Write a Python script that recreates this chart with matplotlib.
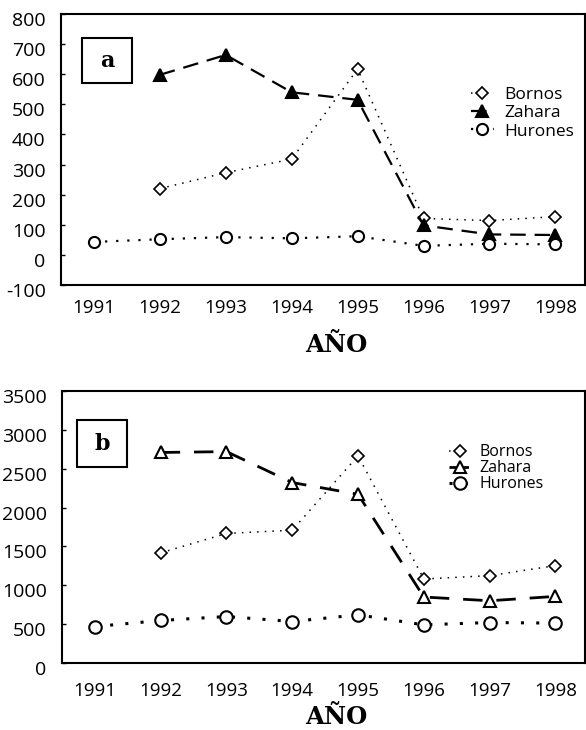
import numpy as np
import matplotlib
matplotlib.use('Agg')
import matplotlib.pyplot as plt
from matplotlib.patches import Rectangle
from matplotlib.transforms import ScaledTranslation

plt.rcParams['font.family'] = ['Open Sans', 'DejaVu Sans']

# 年份
years = [1991, 1992, 1993, 1994, 1995, 1996, 1997, 1998]

# 图 a
bornos_a = [np.nan, 220, 273, 318, 617, 121, 114, 127]
zahara_a = [np.nan, 598, 664, 540, 515, 98, 68, 66]
hurones_a = [43, 52, 59, 55, 62, 30, 37, 35]
yticks_a = list(range(-100, 900, 100))

# 图 b
bornos_b = [np.nan, 1417, 1667, 1709, 2666, 1081, 1124, 1253]
zahara_b = [np.nan, 2709, 2720, 2322, 2171, 849, 801, 857]
hurones_b = [469, 547, 598, 534, 620, 491, 521, 513]
yticks_b = list(range(0, 4000, 500))

series_names = ['Bornos', 'Zahara', 'Hurones']

W, H = 586, 730
fig = plt.figure(figsize=(W / 100, H / 100), dpi=100)


def px_axes(left, top, right, bottom):
    return fig.add_axes([left / W, 1 - bottom / H, (right - left) / W, (bottom - top) / H])


def draw_panel(ax, bornos, zahara, hurones, yticks, tri_face, big, xpad):
    lw_b = 1.1
    lw_z = 1.6 if not big else 2.0
    lw_h = 1.6 if not big else 2.2
    l1, = ax.plot(years, bornos, linestyle=(0, (1, 4)), color='black', lw=lw_b,
                  marker='D', ms=6, mfc='white', mec='black', mew=1.2)
    l2, = ax.plot(years, zahara, linestyle=(0, (7, 4)) if not big else (0, (7, 5)), color='black', lw=lw_z,
                  marker='^', ms=8.5, mfc=tri_face, mec='black', mew=1.5)
    l3, = ax.plot(years, hurones, linestyle=(0, (1, 4)), color='black', lw=lw_h,
                  marker='o', ms=8 if not big else 9, mfc='white', mec='black', mew=1.5)
    ax.set_xlim(1990.5, 1998.45)
    ax.set_ylim(yticks[0], yticks[-1])
    ax.set_yticks(yticks)
    ax.set_xticks(years)
    ax.set_xticklabels([str(y) for y in years], fontsize=13.5)
    ax.set_yticklabels([str(y) for y in yticks], fontsize=14)
    ax.tick_params(axis='y', direction='in', length=3, pad=11, width=1)
    ax.tick_params(axis='x', direction='in', length=0, pad=xpad)
    # y 轴标签略向下偏
    for lab in ax.get_yticklabels():
        lab.set_transform(lab.get_transform() + ScaledTranslation(0, -5 / 100, fig.dpi_scale_trans))
    for sp in ax.spines.values():
        sp.set_linewidth(1.5)
    return [l1, l2, l3]


# 上图 a
ax1 = px_axes(61, 14, 585, 285)
h1 = draw_panel(ax1, bornos_a, zahara_a, hurones_a, yticks_a, 'black', False, 10)
leg1 = ax1.legend(h1, series_names, loc='upper left', bbox_to_anchor=(464 / W, 1 - 80 / H),
                  bbox_transform=fig.transFigure, frameon=False, fontsize=12.5,
                  handlelength=1.3, handletextpad=0.6, labelspacing=0.12, borderaxespad=0)
fig.add_artist(Rectangle((82 / W, 1 - 83 / H), 50 / W, 45 / H, transform=fig.transFigure,
                         fill=False, lw=1.5, ec='black'))
fig.text(107 / W, 1 - 61 / H, 'a', ha='center', va='center', fontsize=16,
         fontweight='bold', family='DejaVu Serif')
fig.text(336 / W, 1 - 345 / H, 'AÑO', ha='center', va='center', fontsize=17.5,
         fontweight='bold', family='DejaVu Serif')

# 下图 b
ax2 = px_axes(62, 391, 585, 663)
h2 = draw_panel(ax2, bornos_b, zahara_b, hurones_b, yticks_b, 'white', True, 14)
leg2 = ax2.legend(h2, series_names, loc='upper left', bbox_to_anchor=(443 / W, 1 - 438 / H),
                  bbox_transform=fig.transFigure, frameon=False, fontsize=11.5,
                  handlelength=1.3, handletextpad=0.6, labelspacing=0.0, borderaxespad=0)
fig.add_artist(Rectangle((77 / W, 1 - 467 / H), 50 / W, 47 / H, transform=fig.transFigure,
                         fill=False, lw=1.5, ec='black'))
fig.text(102 / W, 1 - 444 / H, 'b', ha='center', va='center', fontsize=16,
         fontweight='bold', family='DejaVu Serif')
fig.text(336 / W, 1 - 717 / H, 'AÑO', ha='center', va='center', fontsize=17.5,
         fontweight='bold', family='DejaVu Serif')

fig.savefig('out.png', dpi=100)
